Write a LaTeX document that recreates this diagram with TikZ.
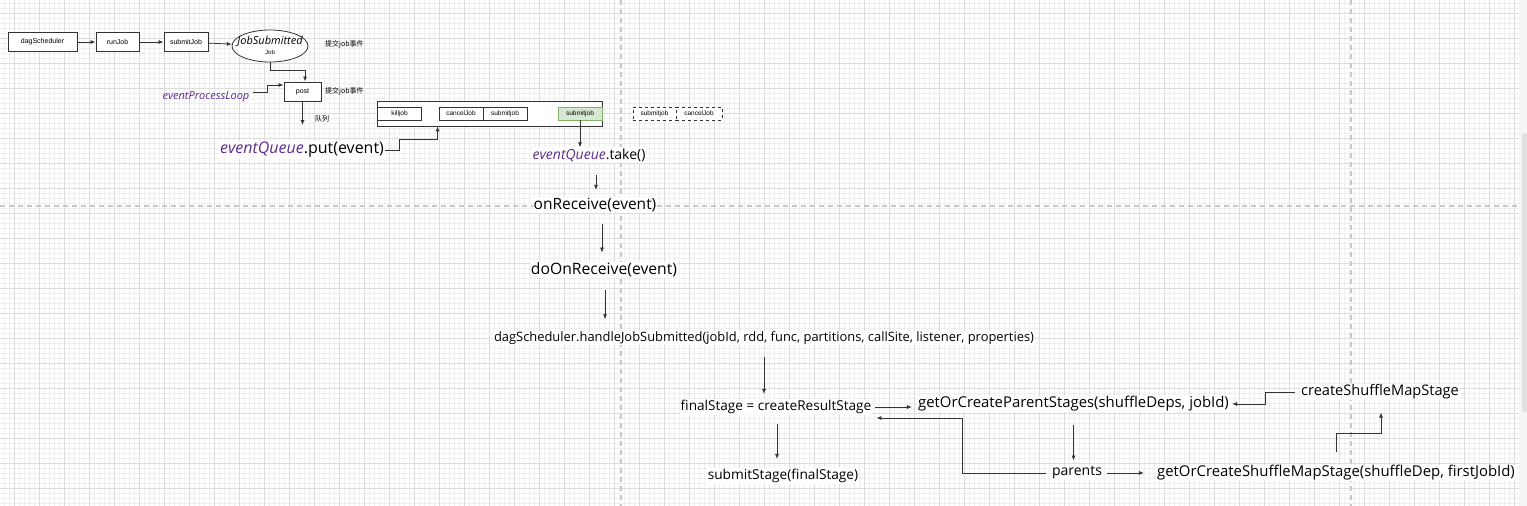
\documentclass[tikz,border=0pt]{standalone}
\usepackage{fontspec}
\setmainfont{Open Sans}
\newfontfamily\boxfont{Liberation Sans}
\newfontfamily\cjkfont{Noto Sans CJK SC}
\usetikzlibrary{arrows.meta,shapes.geometric}

\definecolor{linegray}{HTML}{333333}
\definecolor{gridminor}{HTML}{EFEFEF}
\definecolor{gridmajor}{HTML}{DCDCDC}
\definecolor{guidegray}{HTML}{C8C8C8}
\definecolor{codepurple}{HTML}{5B2D8E}
\definecolor{queuegreen}{HTML}{D5E8D4}
\definecolor{queuegreenline}{HTML}{82B366}

\newcommand{\evq}{\textcolor{codepurple}{\textit{eventQueue}}}

\tikzset{
  fnbox/.style={draw=linegray, line width=1pt, fill=white, font=\boxfont\fontsize{7}{8}\selectfont, minimum height=19pt, inner sep=1pt},
  qitem/.style={draw=linegray, line width=0.8pt, fill=white, font=\boxfont\fontsize{6.5}{7}\selectfont, minimum height=13pt, minimum width=44pt, inner sep=1pt},
  flow/.style={draw=linegray, line width=0.8pt, -{Latex[length=5pt,width=4pt]}},
  note/.style={font=\cjkfont\fontsize{7}{8}\selectfont, anchor=west, inner sep=0pt},
  code/.style={font=\fontsize{#1}{#1}\selectfont, fill=white, inner sep=1pt},
}

\begin{document}
\begin{tikzpicture}[x=1pt,y=-1pt]
    \useasboundingbox (0,0) rectangle (1527,506);
    \fill[white] (0,0) rectangle (1527,506);
    % background grid
    \draw[gridminor, line width=0.6pt] \foreach \gx in {4,9,...,1519} {(\gx,0) -- (\gx,506)};
    \draw[gridminor, line width=0.6pt] \foreach \gy in {3,8,...,503} {(0,\gy) -- (1519,\gy)};
    \draw[gridmajor, line width=0.8pt] \foreach \gx in {14,39,...,1514} {(\gx,0) -- (\gx,506)};
    \draw[gridmajor, line width=0.8pt] \foreach \gy in {13,38,...,488} {(0,\gy) -- (1519,\gy)};
    \draw[guidegray, line width=1.5pt, dash pattern=on 5pt off 4pt]
        (621,0) -- (621,506) (1351,0) -- (1351,506) (0,206) -- (1519,206);
    \fill[white!96!black] (1519,0) rectangle (1527,506);
    \fill[white!88!black, rounded corners=2pt] (1522,133) rectangle (1527,412);

    % submit chain
    \node[fnbox, minimum width=69pt] (dagsched) at (42.5,42) {dagScheduler};
    \node[fnbox, minimum width=43pt] (runjob) at (117.5,42) {runJob};
    \node[fnbox, minimum width=44pt] (submitjob) at (186,42) {submitJob};
    \node[ellipse, draw=linegray, line width=0.8pt, fill=white, minimum width=76pt, minimum height=32pt] (jobsub) at (270,46) {};
    \node[font=\itshape\fontsize{11}{12}\selectfont, inner sep=0pt] (jobsubname) at (270,41) {JobSubmitted};
    \node[font=\boxfont\fontsize{6}{7}\selectfont, inner sep=0pt] (jobsubarg) at (270,52) {Job};
    \node[note] (submitnote) at (325,44) {提交job事件};
    \draw[flow] (dagsched) -- (runjob);
    \draw[flow] (runjob) -- (submitjob);
    \draw[flow] (submitjob) -- (jobsub);

    % post into the queue
    \node[fnbox, minimum width=37pt] (post) at (302.5,91.5) {post};
    \node[note] (postnote) at (325,91) {提交job事件};
    \node[font=\itshape\fontsize{11}{12}\selectfont, text=codepurple] (loop) at (206,97) {eventProcessLoop};
    \draw[flow] (jobsub.south) -- ++(0,8) -| ([xshift=2.5pt]post.north);
    \draw[flow] ([yshift=5pt]loop.east) -- ++(15,0) |- ([yshift=6.5pt]post.west);
    \coordinate (queuein) at (302.5,125);
    \draw[flow] (post.south) -- (queuein);
    \node[note] (queuenote) at (315,119) {队列};

    % the queue
    \node[draw=linegray, line width=0.8pt, fill=white, minimum width=225pt, minimum height=25pt, inner sep=0pt] (queue) at (489.5,113.5) {};
    \node[qitem] (killjob) at (399.5,113.5) {killjob};
    \node[qitem] (canceljob) at (461,113.5) {cancelJob};
    \node[qitem] (submitold) at (505,113.5) {submitjob};
    \node[qitem, fill=queuegreen, draw=queuegreenline] (submitnew) at (580,113.5) {submitjob};
    \node[qitem, dashed, minimum width=43pt] (submitwait) at (654.5,113.5) {submitjob};
    \node[qitem, dashed, minimum width=46pt] (cancelwait) at (699,113.5) {cancelJob};

    \node[code=16] (put) at (302,150) {\evq.put(event)};
    \coordinate (putin) at ([xshift=61pt]queue.south west);
    \draw[flow] (put.east) -- ++(14,0) -- ++(0,-11) -| (putin);

    % event loop
    \node[code=14] (take) at (589,155) {\evq.take()};
    \draw[flow] (submitnew.south) -- (submitnew.south |- take.north);
    \node[code=15.5] (onrecv) at (595,205) {onReceive(event)};
    \draw[flow, shorten <=12pt, shorten >=7pt] ([xshift=7pt]take.south) -- ([xshift=7pt]take.south |- onrecv.north);
    \node[code=15.7] (doonrecv) at (604,270) {doOnReceive(event)};
    \draw[flow, shorten <=11pt, shorten >=9pt] ([xshift=7pt]onrecv.south) -- ([xshift=7pt]onrecv.south |- doonrecv.north);
    \node[code=12.9] (handle) at (764,338) {dagScheduler.handleJobSubmitted(jobId, rdd, func, partitions, callSite, listener, properties)};
    \draw[flow, shorten <=12pt, shorten >=11pt] ([xshift=1pt]doonrecv.south) -- ([xshift=1pt]doonrecv.south |- handle.north);

    % stages
    \node[code=13.6] (final) at (776,407) {finalStage = createResultStage};
    \draw[flow, shorten <=11pt, shorten >=5pt] (handle.south) -- (handle.south |- final.north);
    \node[code=14.9] (parentst) at (1073.5,404) {getOrCreateParentStages(shuffleDeps, jobId)};
    \draw[flow, shorten <=3pt, shorten >=5pt] (final.east) -- (final.east -| parentst.west);
    \node[code=13.7] (submitst) at (783,476) {submitStage(finalStage)};
    \draw[flow, shorten <=9pt, shorten >=9pt] ([xshift=1pt]final.south) -- ([xshift=1pt]final.south |- submitst.north);
    \node[code=14] (parents) at (1077,473) {parents};
    \draw[flow, shorten <=12pt, shorten >=5pt] (parentst.south) -- (parentst.south |- parents.north);
    \node[code=14.9] (shufmap) at (1336,473) {getOrCreateShuffleMapStage(shuffleDep, firstJobId)};
    \draw[flow, shorten <=4pt, shorten >=12pt] (parents.east) -- (parents.east -| shufmap.west);
    \node[code=14.6] (createsms) at (1380,392) {createShuffleMapStage};
    \draw[flow, shorten >=12pt] ([yshift=12pt]shufmap.north) -- ++(0,-19) -| ([xshift=1pt]createsms.south);
    \draw[flow, shorten >=2pt] ([xshift=-5pt]createsms.west) -- ++(-30,0) |- (parentst.east);
    \draw[flow, shorten >=4pt] ([xshift=-5pt]parents.west) -- ++(-83,0) |- ([yshift=-11pt]final.east);
\end{tikzpicture}
\end{document}
